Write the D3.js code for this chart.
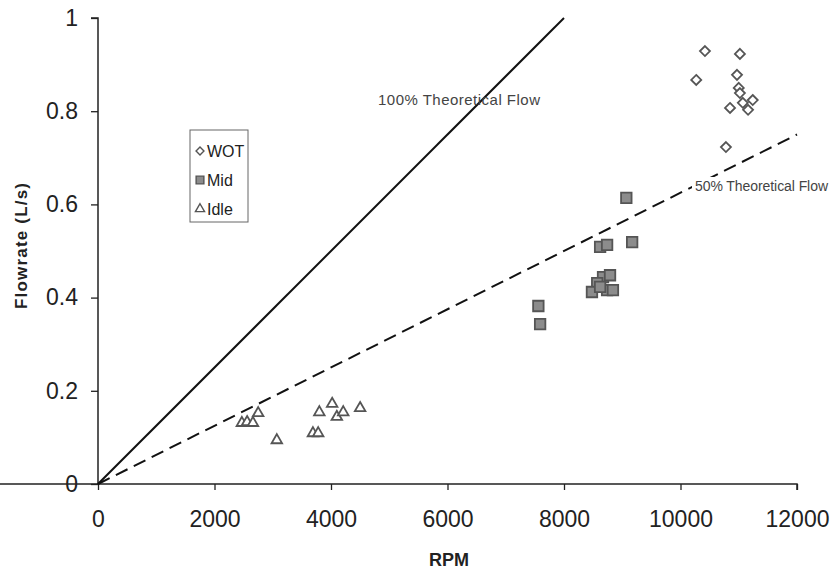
<!DOCTYPE html>
<html>
<head>
<meta charset="utf-8">
<script src="https://cdn.jsdelivr.net/npm/d3@7"></script>
<style>
	body { margin: 0; background: #fff; }
	text { font-family: "Liberation Sans", Arial, sans-serif; }
</style>
</head>
<body>
<svg id="chart" width="837" height="572"></svg>
<script>
// data
const wot_rpm  = [10420, 11020, 10270, 10970, 11000, 11020, 11240, 11070, 11160, 10850, 10780];
const wot_flow = [0.929, 0.923, 0.867, 0.878, 0.850, 0.839, 0.824, 0.818, 0.803, 0.807, 0.723];

const mid_rpm  = [9070, 9170, 8620, 8740, 8670, 8790, 8570, 8480, 8740, 8840, 8620, 7560, 7590];
const mid_flow = [0.614, 0.519, 0.509, 0.513, 0.444, 0.448, 0.431, 0.412, 0.416, 0.416, 0.423, 0.382, 0.343];

const idle_rpm  = [2470, 2560, 2660, 2750, 3070, 3690, 3780, 3800, 4020, 4100, 4210, 4500];
const idle_flow = [0.131, 0.133, 0.131, 0.152, 0.094, 0.109, 0.109, 0.154, 0.172, 0.144, 0.154, 0.163];

const x_ticks = [0, 2000, 4000, 6000, 8000, 10000, 12000];
const y_ticks = [0, 0.2, 0.4, 0.6, 0.8, 1];

// theoretical flow lines
const line_100 = [[0, 0], [8000, 1]];
const line_50  = [[0, 0], [12000, 0.75]];

const svg = d3.select('#chart');

let x = d3.scaleLinear().domain([0, 12000]).range([98, 797]);
let y = d3.scaleLinear().domain([0, 1]).range([484, 18]);

// axes
let x_axis = svg.append('g')
	.attr('transform', 'translate(0,' + y(0) + ')')
	.call(d3.axisBottom(x).tickValues(x_ticks).tickSize(6).tickPadding(21).tickFormat(d3.format('d')));

let y_axis = svg.append('g')
	.attr('transform', 'translate(' + x(0) + ',0)')
	.call(d3.axisLeft(y).tickValues(y_ticks).tickSize(7).tickPadding(13).tickFormat(d => d === 0 || d === 1 ? d : d.toFixed(1)));

[x_axis, y_axis].forEach(function (a) {
	a.select('.domain').attr('stroke', '#222').attr('stroke-width', 1.5);
	a.selectAll('.tick line').attr('stroke', '#222').attr('stroke-width', 1.3);
	a.selectAll('.tick text')
		.attr('fill', '#222')
		.style('font-size', '23px')
		.style('font-family', '"Liberation Sans", Arial, sans-serif');
});
// shape the axis lines like the picture
y_axis.select('.domain').attr('d', 'M-7,' + y(1) + 'H0V' + y(0));
x_axis.select('.domain').attr('d', 'M0,0H' + x(12000) + 'V6');

// axis titles
svg.append('text')
	.attr('x', 449).attr('y', 566)
	.attr('text-anchor', 'middle')
	.style('font-size', '18px').style('font-weight', 'bold')
	.attr('fill', '#222')
	.text('RPM');

svg.append('text')
	.attr('transform', 'translate(27,246) rotate(-90)')
	.attr('text-anchor', 'middle')
	.style('font-size', '17px').style('font-weight', 'bold')
	.attr('fill', '#222')
	.attr('textLength', 126)
	.text('Flowrate (L/s)');

// lines
let line = d3.line().x(d => x(d[0])).y(d => y(d[1]));

svg.append('path')
	.attr('d', line(line_100))
	.attr('fill', 'none')
	.attr('stroke', '#111')
	.attr('stroke-width', 2);

svg.append('path')
	.attr('d', line(line_50))
	.attr('fill', 'none')
	.attr('stroke', '#111')
	.attr('stroke-width', 2)
	.attr('stroke-dasharray', '13,7');

svg.append('text')
	.attr('x', 378).attr('y', 105)
	.style('font-size', '15px').attr('fill', '#444')
	.attr('textLength', 162)
	.text('100% Theoretical Flow');

// white box behind the 50% label, it sits on the dashed line
svg.append('rect')
	.attr('x', 692).attr('y', 177)
	.attr('width', 140).attr('height', 18)
	.attr('fill', '#fff');

svg.append('text')
	.attr('x', 695).attr('y', 191)
	.style('font-size', '14px').attr('fill', '#444')
	.attr('textLength', 133)
	.text('50% Theoretical Flow');

// markers
let diamond = d3.symbol().type(d3.symbolDiamond2).size(64);
let square = d3.symbol().type(d3.symbolSquare).size(110);
let triangle = d3.symbol().type(d3.symbolTriangle).size(48);

function draw_points(xs, ys, sym, fill, stroke) {
	svg.append('g').selectAll('path')
		.data(xs.map((v, i) => [v, ys[i]]))
		.join('path')
		.attr('transform', d => 'translate(' + x(d[0]) + ',' + y(d[1]) + ')')
		.attr('d', sym)
		.attr('fill', fill)
		.attr('stroke', stroke)
		.attr('stroke-width', 1.8);
}

draw_points(idle_rpm, idle_flow, triangle, '#fff', '#555');
draw_points(mid_rpm, mid_flow, square, '#8c8c8c', '#555');
draw_points(wot_rpm, wot_flow, diamond, '#fff', '#555');

// legend
let legend = svg.append('g');
legend.append('rect')
	.attr('x', 190).attr('y', 130)
	.attr('width', 58).attr('height', 92)
	.attr('fill', '#fff')
	.attr('stroke', '#666')
	.attr('stroke-width', 1);

const legend_items = [
	{ name: 'WOT', sym: d3.symbol().type(d3.symbolDiamond2).size(40), fill: '#fff', stroke: '#555' },
	{ name: 'Mid', sym: d3.symbol().type(d3.symbolSquare).size(60), fill: '#8c8c8c', stroke: '#555' },
	{ name: 'Idle', sym: d3.symbol().type(d3.symbolTriangle).size(36), fill: '#fff', stroke: '#555' }
];

legend_items.forEach(function (d, i) {
	let cy = 151 + i * 29;
	legend.append('path')
		.attr('transform', 'translate(200,' + cy + ')')
		.attr('d', d.sym)
		.attr('fill', d.fill)
		.attr('stroke', d.stroke)
		.attr('stroke-width', 1.4);
	legend.append('text')
		.attr('x', 207).attr('y', cy + 6)
		.style('font-size', '16px')
		.attr('fill', '#222')
		.text(d.name);
});
</script>
</body>
</html>
